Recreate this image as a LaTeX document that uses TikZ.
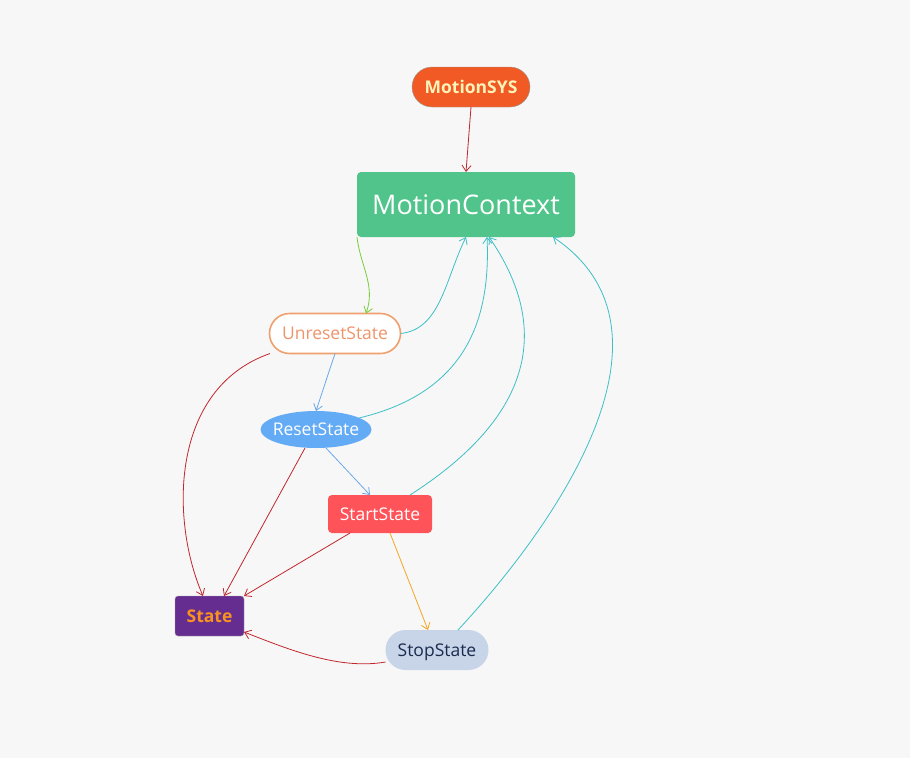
\documentclass[tikz,border=0pt]{standalone}
\usepackage{fontspec}
\setmainfont{Open Sans}
\usetikzlibrary{arrows.meta,shapes.geometric}
\definecolor{bg}{HTML}{F7F7F7}
\definecolor{sysfill}{HTML}{F15A24}
\definecolor{systext}{HTML}{FFF3B8}
\definecolor{ctxfill}{HTML}{50C48B}
\definecolor{unborder}{HTML}{F0A06E}
\definecolor{untext}{HTML}{F0946A}
\definecolor{resetfill}{HTML}{63ABF5}
\definecolor{startfill}{HTML}{FF535A}
\definecolor{statefill}{HTML}{662D91}
\definecolor{statetext}{HTML}{F7931E}
\definecolor{stopfill}{HTML}{C8D4E8}
\definecolor{stoptext}{HTML}{1B2A4E}
\definecolor{redline}{HTML}{C0272D}
\definecolor{cyanline}{HTML}{3DBFC6}
\definecolor{greenline}{HTML}{7ACC3A}
\definecolor{blueline}{HTML}{6AA8E8}
\definecolor{orangeline}{HTML}{F5A623}
\tikzset{
  x=1pt,y=-1pt,
  base/.style={inner sep=0pt,outer sep=0pt,text depth=0pt},
  conn/.style={-{Straight Barb[length=6pt,width=9pt]},line width=0.8pt},
  smalltxt/.style={font=\fontsize{17.5}{20}\selectfont},
}
\begin{document}
\begin{tikzpicture}
\fill[bg] (0,0) rectangle (910,758);
\useasboundingbox (0,0) rectangle (910,758);
\node[base,draw=gray!80,fill=sysfill,rounded corners=20pt,minimum width=118pt,minimum height=40pt,font=\fontsize{17.5}{20}\selectfont\bfseries,text=systext] (sys) at (471,87) {MotionSYS};
\node[base,fill=ctxfill,rounded corners=4pt,minimum width=218pt,minimum height=65pt,font=\fontsize{27}{31}\selectfont,text=white] (ctx) at (466,204.5) {MotionContext};
\node[base,smalltxt,draw=unborder,line width=1.6pt,fill=white,rounded corners=20pt,minimum width=131pt,minimum height=40pt,text=untext] (un) at (335,333.5) {UnresetState};
\node[base,smalltxt,ellipse,inner xsep=-4pt,fill=resetfill,minimum width=110pt,minimum height=37pt,text=white] (reset) at (316,429.5) {ResetState};
\node[base,smalltxt,fill=startfill,rounded corners=4pt,minimum width=104pt,minimum height=38pt,text=white] (start) at (380,514) {StartState};
\node[base,draw=gray!70,fill=statefill,rounded corners=3pt,minimum width=69pt,minimum height=40pt,font=\fontsize{17.5}{20}\selectfont\bfseries,text=statetext] (state) at (209.5,616) {State};
\node[base,smalltxt,fill=stopfill,rounded corners=20pt,minimum width=103pt,minimum height=40pt,text=stoptext] (stop) at (437,650) {StopState};

\draw[conn,redline] (sys.south) -- (ctx.north);
\draw[conn,greenline] (ctx.south west) .. controls +(3,28) and +(10,-28) .. ([xshift=31pt]un.north);
% cyan to MotionContext
\draw[conn,cyanline] (un.east) .. controls +(40,-4) and +(-21,43) .. (ctx.south);
\draw[conn,cyanline] (reset.15) .. controls +(105,-25) and +(4,85) .. ([xshift=21pt]ctx.south);
\draw[conn,cyanline] ([xshift=30pt]start.north) .. controls +(125,-80) and +(62,90) .. ([xshift=23pt]ctx.south);
\draw[conn,cyanline] ([xshift=21pt]stop.north) .. controls +(102,-110) and +(137,92) .. ([xshift=87pt]ctx.south);
% chain
\draw[conn,blueline] (un.south) -- (reset.north);
\draw[conn,blueline] ([xshift=10pt]reset.south) -- ([xshift=-10pt]start.north);
\draw[conn,orangeline] ([xshift=10pt]start.south) -- ([xshift=-9pt]stop.north);
% to State
\draw[conn,redline] ([xshift=-65pt]un.south) .. controls +(-100,35) and +(-33,-76) .. ([xshift=-6.5pt]state.north);
\draw[conn,redline] ([xshift=-11pt]reset.south) -- ([xshift=14.5pt]state.north);
\draw[conn,redline] ([xshift=-30pt]start.south) -- (state.north east);
\draw[conn,redline] ([yshift=-12pt]stop.west) .. controls +(-46,8) and +(46,18) .. ([yshift=4pt]state.south east);
\end{tikzpicture}
\end{document}
